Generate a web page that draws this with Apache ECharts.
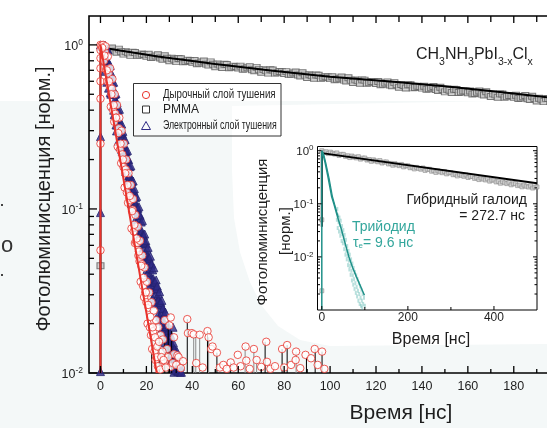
<!DOCTYPE html>
<html>
<head>
<meta charset="utf-8">
<script src="https://cdn.jsdelivr.net/npm/echarts@6/dist/echarts.min.js"></script>
<style>
  html, body { margin: 0; padding: 0; background: #fff; }
  #chart { width: 547px; height: 428px; }
</style>
</head>
<body>
<div id="chart"></div>
<script>
// ---------- main panel data: time [ns], normalised PL ----------
const pmmaDecay = [
  [0,0.045],[0.4,0.98],
  [1,0.969],[2,0.926],[3,0.931],[4,0.944],[5,0.958],[6,0.916],[7,0.902],[8,0.942],[9,0.91],[10,0.878],
  [11,0.909],[12,0.895],[13,0.863],[14,0.903],[15,0.898],[16,0.86],[17,0.866],[18,0.879],[19,0.874],[20,0.853],
  [21,0.877],[22,0.838],[23,0.842],[24,0.856],[25,0.87],[26,0.832],[27,0.818],[28,0.858],[29,0.83],[30,0.8],
  [31,0.828],[32,0.818],[33,0.791],[34,0.827],[35,0.824],[36,0.788],[37,0.792],[38,0.806],[39,0.803],[40,0.783],
  [41,0.804],[42,0.768],[43,0.772],[44,0.786],[45,0.798],[46,0.763],[47,0.753],[48,0.788],[49,0.762],[50,0.736],
  [51,0.764],[52,0.753],[53,0.728],[54,0.762],[55,0.759],[56,0.726],[57,0.731],[58,0.742],[59,0.739],[60,0.723],
  [61,0.742],[62,0.71],[63,0.714],[64,0.725],[65,0.737],[66,0.706],[67,0.696],[68,0.729],[69,0.705],[70,0.681],
  [71,0.707],[72,0.697],[73,0.673],[74,0.706],[75,0.703],[76,0.673],[77,0.677],[78,0.689],[79,0.686],[80,0.67],
  [81,0.687],[82,0.659],[83,0.662],[84,0.674],[85,0.684],[86,0.655],[87,0.646],[88,0.677],[89,0.654],[90,0.632],
  [91,0.657],[92,0.648],[93,0.626],[94,0.656],[95,0.653],[96,0.625],[97,0.63],[98,0.64],[99,0.637],[100,0.623],
  [101,0.64],[102,0.613],[103,0.617],[104,0.626],[105,0.637],[106,0.61],[107,0.602],[108,0.63],[109,0.61],[110,0.59],
  [111,0.612],[112,0.604],[113,0.584],[114,0.612],[115,0.61],[116,0.584],[117,0.588],[118,0.598],[119,0.596],[120,0.582],
  [121,0.598],[122,0.572],[123,0.576],[124,0.586],[125,0.595],[126,0.57],[127,0.563],[128,0.589],[129,0.571],[130,0.552],
  [131,0.573],[132,0.565],[133,0.546],[134,0.572],[135,0.571],[136,0.547],[137,0.55],[138,0.56],[139,0.558],[140,0.545],
  [141,0.56],[142,0.536],[143,0.54],[144,0.548],[145,0.558],[146,0.535],[147,0.527],[148,0.552],[149,0.535],[150,0.517],
  [151,0.536],[152,0.529],[153,0.512],[154,0.537],[155,0.534],[156,0.512],[157,0.516],[158,0.524],[159,0.523],[160,0.511],
  [161,0.524],[162,0.502],[163,0.506],[164,0.514],[165,0.523],[166,0.501],[167,0.495],[168,0.518],[169,0.501],[170,0.485],
  [171,0.503],[172,0.496],[173,0.48],[174,0.503],[175,0.502],[176,0.48],[177,0.484],[178,0.492],[179,0.491],[180,0.479],
  [181,0.493],[182,0.471],[183,0.475],[184,0.483],[185,0.491],[186,0.47],[187,0.465],[188,0.486],[189,0.471],[190,0.455],
  [191,0.473],[192,0.466],[193,0.451],[194,0.472],[195,0.471],[196,0.451],[197,0.454],[198,0.462],[199,0.461],[200,0.45]
];
const pmmaFit = [[0,0.01],[0,0.96],[1,0.96],[25,0.85],[50,0.765],[75,0.695],[100,0.64],[125,0.6],[150,0.56],[175,0.515],[200,0.47]];

const holeQuench = [
  [0,1.0],[0,0.93],[0,0.83],[0,0.72],[0,0.6],[0,0.47],[0,0.25],[0,0.056],
  [0.5,0.99],[1,0.97],[1.5,0.8],[2,0.9],[2.5,0.71],[3,0.6],[3.5,0.67],[4,0.56],[4.5,0.42],[5,0.54],
  [5.5,0.4],[6,0.34],[6.5,0.38],[7,0.36],[7.5,0.24],[8,0.31],[8.5,0.23],[9,0.19],[9.5,0.215],[10,0.18],
  [10.5,0.135],[11,0.174],[11.5,0.126],[12,0.109],[12.5,0.117],[13,0.113],[13.5,0.076],[14,0.099],[14.5,0.073],[15,0.062],
  [15.5,0.063],[16,0.062],[16.5,0.052],[17,0.048],[17.5,0.036],[18,0.046],[18.5,0.034],[19,0.029],[19.5,0.031],[20,0.027],
  [20.5,0.02],[21,0.025],[21.5,0.019],[22,0.017],[22.5,0.014],[23,0.018],[23.5,0.0135],[24,0.012],[24.5,0.0125],[25,0.011],
  [1.2,1.0],[2.2,0.98],[3.2,0.85],[4.2,0.72],[5.2,0.62],[6.2,0.5],[7.2,0.43],[8.2,0.36],[9.2,0.3],[10.2,0.25],
  [11.2,0.2],[12.2,0.165],[13.2,0.14],[14.2,0.115],[15.2,0.092],[16.2,0.078],[17.2,0.064],[18.2,0.052],[19.2,0.044],[20.2,0.036],
  [21.2,0.031],[22.2,0.027],[23.2,0.024],[24.2,0.021],[25.2,0.019],[26.2,0.017],[27.2,0.016],[28,0.021],[29,0.014],[30,0.0195],
  [0.75,0.96],[1.75,0.86],[2.75,0.7],[3.75,0.6],[4.75,0.5],[5.75,0.43],[6.75,0.36],[7.75,0.29],[8.75,0.25],[9.75,0.2],
  [10.75,0.165],[11.75,0.14],[12.75,0.12],[13.75,0.097],[14.75,0.08],[15.75,0.066],[16.75,0.055],[17.75,0.045],[18.75,0.038],[19.75,0.031],
  [20.75,0.026],[21.75,0.022],[22.75,0.019],[23.75,0.0165],[24.75,0.0145],
  [30.6,0.0218],[32,0.013],[25.5,0.0155],[26,0.0105],[27,0.0135],[28,0.0118],[29.5,0.0125],[30.5,0.0109],[32,0.0165],[33.5,0.0128],
  [34.5,0.0115],[26.5,0.0125],[27.5,0.012],[28.5,0.0108],[31.5,0.0115],[33,0.0112],[34,0.0125],[35,0.0107],[36,0.0118],
  [37.8,0.0213],[38.1,0.0175],[39.8,0.0175],[40.6,0.0172],[41.7,0.0115],[43.2,0.0171],[44.5,0.0108],[46.6,0.018],[47.1,0.0165],[48.2,0.014],
  [48.8,0.0145],[50.7,0.0133],[52,0.0108],[53.5,0.0112],[55,0.0106],[56.7,0.0116],[58,0.0108],[59.8,0.0129],[61,0.011],[63.2,0.0145],
  [63.5,0.0119],[65,0.0106],[66.8,0.014],[68,0.012],[70,0.0109],[72.2,0.0155],[72.5,0.0117],[74,0.0106],[76,0.011],[79.1,0.014],
  [80,0.0108],[81.3,0.0148],[83,0.0112],[85.2,0.0135],[85,0.012],[87,0.0107],[89.3,0.0129],[91.7,0.0123],[93.3,0.014],[94.6,0.0112],
  [96.5,0.0135],[97.5,0.0106]
];
const holeFit = [[0,0.01],[0,1.0],[0.2,1.0],[24.5,0.01]];

const electronQuench = [
  [0,1.0],[0,0.276],[0,0.095],[0,0.0102],
  [0.5,0.977],[1,0.881],[1.5,0.993],[2,0.69],[2.5,0.743],[3,0.73],[3.5,0.545],[4,0.658],[4.5,0.501],[5,0.531],
  [5.5,0.501],[6,0.376],[6.5,0.457],[7,0.299],[7.5,0.324],[8,0.32],[8.5,0.24],[9,0.292],[9.5,0.224],[10,0.238],
  [10.5,0.225],[11,0.169],[11.5,0.206],[12,0.135],[12.5,0.146],[13,0.144],[13.5,0.108],[14,0.131],[14.5,0.1],[15,0.107],
  [15.5,0.102],[16,0.0771],[16.5,0.0946],[17,0.0624],[17.5,0.0682],[18,0.0681],[18.5,0.0515],[19,0.0632],[19.5,0.049],[20,0.0528],
  [20.5,0.0508],[21,0.0388],[21.5,0.0481],[22,0.032],[22.5,0.0353],[23,0.0356],[23.5,0.0272],[24,0.0337],[24.5,0.0263],[25,0.0284],
  [25.5,0.0273],[26,0.0208],[26.5,0.0258],[27,0.0172],[27.5,0.019],[28,0.0191],[28.5,0.0146],[29,0.0181],[29.5,0.0141],[30,0.0155],
  [30.5,0.015],[31,0.0116],[31.5,0.0146],[32,0.0101],[32.5,0.011],[33,0.0112],[33.5,0.0103],[34,0.0105],
  [0.75,0.99],[1.25,0.99],[1.75,0.755],[2.25,0.813],[2.75,0.592],[3.25,0.731],[3.75,0.598],[4.25,0.512],[4.75,0.619],[5.25,0.424],
  [5.75,0.4],[6.25,0.465],[6.75,0.325],[7.25,0.352],[7.75,0.258],[8.25,0.321],[8.75,0.265],[9.25,0.229],[9.75,0.278],[10.25,0.191],
  [10.75,0.18],[11.25,0.21],[11.75,0.147],[12.25,0.159],[12.75,0.116],[13.25,0.145],[13.75,0.119],[14.25,0.102],[14.75,0.124],[15.25,0.0859],
  [15.75,0.0818],[16.25,0.0959],[16.75,0.0678],[17.25,0.0741],[17.75,0.0548],[18.25,0.0689],[18.75,0.0571],[19.25,0.0497],[19.75,0.0612],[20.25,0.0427],
  [20.75,0.041],[21.25,0.0485],[21.75,0.0346],[22.25,0.0382],[22.75,0.0285],[23.25,0.0361],[23.75,0.0303],[24.25,0.0265],[24.75,0.0329],[25.25,0.0229],
  [25.75,0.022],[26.25,0.0261],[26.75,0.0186],[27.25,0.0205],[27.75,0.0153],[28.25,0.0194],[28.75,0.0163],[29.25,0.0143],[29.75,0.0178],[30.25,0.0125],
  [30.75,0.0122],[31.25,0.0147],[31.75,0.0106],[32.25,0.0118],[32.75,0.0104],[33.25,0.0115],[33.75,0.0102],[34.25,0.0108],[34.75,0.0101],
  [31.6,0.019],[34.5,0.011],
  [1,0.99],[1.5,0.933],[2,0.995],[2.5,0.826],[3,0.811],[3.5,0.76],[4,0.665],[4.5,0.655],[5,0.547],[5.5,0.537],
  [6,0.507],[6.5,0.427],[7,0.442],[7.5,0.355],[8,0.351],[8.5,0.331],[9,0.292],[9.5,0.288],[10,0.243],[10.5,0.24],
  [11,0.228],[11.5,0.192],[12,0.199],[12.5,0.16],[13,0.158],[13.5,0.149],[14,0.131],[14.5,0.129],[15,0.109],[15.5,0.107],
  [16,0.102],[16.5,0.0867],[17,0.0906],[17.5,0.0735],[18,0.0733],[18.5,0.0698],[19,0.0621],[19.5,0.0619],[20,0.0526],[20.5,0.0525],
  [21,0.0505],[21.5,0.0433],[22,0.0456],[22.5,0.0373],[23,0.0376],[23.5,0.0361],[24,0.0324],[24.5,0.0327],[25,0.028],[25.5,0.0282],
  [26,0.0271],[26.5,0.0232],[27,0.0245],[27.5,0.02],[28,0.0202],[28.5,0.0194],[29,0.0174],[29.5,0.0175],[30,0.015],[30.5,0.0151],
  [31,0.0148],[31.5,0.0128],[32,0.0137],[32.5,0.0114],[33,0.0116],[33.5,0.0113],[34,0.0103],[34.5,0.0105],
  [1.25,0.99],[1.75,0.985],[2.25,0.98],[2.75,0.929],[3.25,0.933],[3.75,0.745],[4.25,0.748],[4.75,0.671],[5.25,0.587],[5.75,0.592],
  [6.25,0.498],[6.75,0.504],[7.25,0.444],[7.75,0.4],[8.25,0.405],[8.75,0.325],[9.25,0.329],[9.75,0.297],[10.25,0.262],[10.75,0.265],
  [11.25,0.224],[11.75,0.227],[12.25,0.2],[12.75,0.181],[13.25,0.183],[13.75,0.147],[14.25,0.148],[14.75,0.133],[15.25,0.117],[15.75,0.119],
  [16.25,0.1007],[16.75,0.103],[17.25,0.0914],[17.75,0.0832],[18.25,0.0849],[18.75,0.0689],[19.25,0.0703],[19.75,0.064],[20.25,0.0569],[20.75,0.0583],
  [21.25,0.05],[21.75,0.0515],[22.25,0.0462],[22.75,0.0425],[23.25,0.0438],[23.75,0.0358],[24.25,0.0369],[24.75,0.0339],[25.25,0.0304],[25.75,0.0313],
  [26.25,0.0269],[26.75,0.0277],[27.25,0.0248],[27.75,0.0228],[28.25,0.0235],[28.75,0.0192],[29.25,0.0198],[29.75,0.0182],[30.25,0.0163],[30.75,0.0169],
  [31.25,0.0147],[31.75,0.0153],[32.25,0.014],[32.75,0.013],[33.25,0.0136],[33.75,0.0112],[34.25,0.0117],[34.75,0.011],[35.25,0.0101]
];

// drop lines from the noisy tail down to the axis floor
const dropBlack = [[22.3,0.019],[25.6,0.017],[28,0.016],[29.5,0.02],[31,0.018],[33,0.013],[37.8,0.0213],[46.6,0.018],[50.7,0.0133],
  [56.7,0.0116],[71.7,0.0155],[79.1,0.014],[81.3,0.0148],[89.7,0.0125],[93.5,0.014],[96.5,0.0135]];
const dropGrey = [[40.6,0.0172],[41.5,0.0175],[43.2,0.0171],[47.1,0.0165],[63,0.0145],[66.8,0.014],[68,0.012],[85.2,0.0135]];

// ---------- inset data ----------
const hybridDecay = [
  [0,0.05],[0,0.0023],
  [0,1.0],[5,0.934],[10,0.955],[15,0.883],[20,0.94],[25,0.896],[30,0.863],[35,0.908],[40,0.816],[45,0.852],
  [50,0.853],[55,0.783],[60,0.803],[65,0.743],[70,0.793],[75,0.758],[80,0.731],[85,0.771],[90,0.694],[95,0.725],
  [100,0.728],[105,0.667],[110,0.683],[115,0.632],[120,0.674],[125,0.643],[130,0.619],[135,0.652],[140,0.586],[145,0.612],
  [150,0.614],[155,0.563],[160,0.577],[165,0.533],[170,0.569],[175,0.543],[180,0.523],[185,0.551],[190,0.496],[195,0.518],
  [200,0.52],[205,0.478],[210,0.49],[215,0.454],[220,0.485],[225,0.464],[230,0.448],[235,0.473],[240,0.425],[245,0.446],
  [250,0.447],[255,0.411],[260,0.421],[265,0.39],[270,0.417],[275,0.399],[280,0.385],[285,0.406],[290,0.366],[295,0.384],
  [300,0.385],[305,0.353],[310,0.362],[315,0.335],[320,0.357],[325,0.342],[330,0.329],[335,0.348],[340,0.313],[345,0.326],
  [350,0.328],[355,0.301],[360,0.308],[365,0.286],[370,0.305],[375,0.292],[380,0.281],[385,0.297],[390,0.267],[395,0.279],
  [400,0.281],[405,0.258],[410,0.264],[415,0.244],[420,0.261],[425,0.249],[430,0.24],[435,0.253],[440,0.228],[445,0.239],
  [450,0.239],[455,0.22],[460,0.226],[465,0.209],[470,0.224],[475,0.214],[480,0.207],[485,0.218],[490,0.198],[495,0.207],[500,0.208]
];
const hybridFit = [[0,0.037],[0,0.9],[2,0.9],[500,0.245]];
const triiodideFit = [[0,0.001],[0,1.0],[3,0.85],[8,0.58],[15,0.3],[23,0.135],[28,0.1],[37,0.055],[46,0.032],[55,0.017],
  [63,0.01],[72,0.0062],[80,0.0043],[90,0.0028],[99,0.0019]];
const triiodideTrace = [[1,1.0],[4.5,0.85],[9.5,0.58],[17,0.3],[24.5,0.14],[29.5,0.1],[38,0.056]];
const triiodideScatter = [
  [35,0.05],[36,0.08],[37,0.035],[38,0.06],[39,0.045],[40,0.03],[41,0.055],[42,0.04],[43,0.025],[44,0.048],
  [45,0.03],[46,0.02],[47,0.038],[48,0.027],[49,0.018],[50,0.032],[51,0.022],[52,0.014],[53,0.026],[54,0.017],
  [55,0.011],[56,0.021],[57,0.013],[58,0.009],[59,0.016],[60,0.0105],[61,0.007],[62,0.013],[63,0.0085],[64,0.0058],
  [65,0.011],[66,0.0068],[67,0.0046],[68,0.009],[69,0.0055],[70,0.0036],[71,0.0075],[72,0.0045],[73,0.003],[74,0.0062],
  [75,0.0038],[76,0.0025],[77,0.0052],[78,0.0032],[79,0.0021],[80,0.0045],[81,0.0027],[82,0.0018],[83,0.0038],[84,0.0023],
  [85,0.0015],[86,0.0032],[87,0.002],[88,0.0013],[89,0.0028],[90,0.0017],[91,0.0012],[92,0.0024],[93,0.0015],[94,0.0011],
  [95,0.002],[96,0.0013],[98,0.0017],[100,0.0012]
];

// ---------- tick values ----------
const mainXMajor = [0,20,40,60,80,100,120,140,160,180,200];
const mainXMinor = [10,30,50,70,90,110,130,150,170,190];
const mainYMajor = [0.01,0.1,1];
const mainYMinor = [0.02,0.03,0.04,0.05,0.06,0.07,0.08,0.09,0.2,0.3,0.4,0.5,0.6,0.7,0.8,0.9];
const insetXMajor = [0,200,400];
const insetXMinor = [100,300];
const insetYMajor = [0.01,0.1,1];
const insetYMinor = [0.002,0.003,0.004,0.005,0.006,0.007,0.008,0.009,0.02,0.03,0.04,0.05,0.06,0.07,0.08,0.09,0.2,0.3,0.4,0.5,0.6,0.7,0.8,0.9];

// legend entries
const legendNames = ['Дырочный слой тушения', 'PMMA', 'Электронный слой тушения'];

const MAIN_X = [-5, 200], MAIN_Y = [0.01, 1.5];
const INSET_X = [-10, 500], INSET_Y = [0.001, 1.2];

const FONT = '"Liberation Sans", Arial, Helvetica, sans-serif';
const INK = '#1e1e1e';
const RED = '#e9332c';
const NAVY = '#2e2a86';
const TEAL = '#1f9088';
const TEAL_TEXT = '#33a69c';

function powLabel(v) {
  return '10{s|' + Math.round(Math.log10(v)) + '}';
}

// ticks along the bottom (and optionally top) edge of a panel
function xTicks(idx, majors, minors, yr, o) {
  const data = majors.map(v => [v, yr[0], 1]).concat(minors.map(v => [v, yr[0], 0]));
  return {
    type: 'custom', xAxisIndex: idx, yAxisIndex: idx, silent: true, z: 20, clip: false,
    encode: { x: 0, y: 1 }, data,
    renderItem(p, api) {
      const v = api.value(0), major = api.value(2) === 1;
      const b = api.coord([v, yr[0]]), t = api.coord([v, yr[1]]);
      const st = { stroke: '#000', lineWidth: o.lw };
      const len = major ? o.major : o.minor;
      const ch = [{ type: 'line', shape: { x1: b[0], y1: b[1], x2: b[0], y2: b[1] - len }, style: st }];
      if (o.top) ch.push({ type: 'line', shape: { x1: t[0], y1: t[1], x2: t[0], y2: t[1] + (major ? o.topMajor : o.topMinor) }, style: st });
      if (major) {
        ch.push({ type: 'text', x: b[0], y: b[1] + o.gap,
          style: { text: String(v), fontSize: o.fs, fontFamily: FONT, fill: INK, align: 'center', verticalAlign: 'top' } });
      }
      return { type: 'group', children: ch };
    }
  };
}

// ticks along the left (and optionally right) edge of a log panel
function yTicks(idx, majors, minors, xr, o) {
  const data = majors.map(v => [xr[0], v, 1]).concat(minors.map(v => [xr[0], v, 0]));
  return {
    type: 'custom', xAxisIndex: idx, yAxisIndex: idx, silent: true, z: 20, clip: false,
    encode: { x: 0, y: 1 }, data,
    renderItem(p, api) {
      const v = api.value(1), major = api.value(2) === 1;
      const l = api.coord([xr[0], v]), r = api.coord([xr[1], v]);
      const st = { stroke: '#000', lineWidth: o.lw };
      const len = major ? o.major : o.minor;
      const ch = [{ type: 'line', shape: { x1: l[0], y1: l[1], x2: l[0] + len, y2: l[1] }, style: st }];
      if (o.right) ch.push({ type: 'line', shape: { x1: r[0], y1: r[1], x2: r[0] - len, y2: r[1] }, style: st });
      if (major) {
        ch.push({ type: 'text', x: l[0] - o.gap, y: l[1] + o.dy,
          style: { text: powLabel(v), fontSize: o.fs, fontFamily: FONT, fill: INK, align: 'right', verticalAlign: 'middle',
            lineHeight: o.fs + 4,
            rich: { s: { fontSize: o.sfs, fontFamily: FONT, fill: INK, lineHeight: o.fs + 4, padding: [0, 0, o.rise, 0] } } } });
      }
      return { type: 'group', children: ch };
    }
  };
}

function dropSeries(pts, color) {
  return {
    type: 'custom', xAxisIndex: 0, yAxisIndex: 0, silent: true, z: 4, clip: false,
    encode: { x: 0, y: 1 }, data: pts,
    renderItem(p, api) {
      const a = api.coord([api.value(0), api.value(1)]);
      const b = api.coord([api.value(0), MAIN_Y[0]]);
      return { type: 'line', shape: { x1: a[0], y1: a[1], x2: b[0], y2: b[1] }, style: { stroke: color, lineWidth: 1 } };
    }
  };
}

// boxed key in the upper left of the main panel
function legendGraphic() {
  const x0 = 133.5, y0 = 83.5, rows = [95, 109.5, 126];
  const scales = [0.81, 1.0, 0.73];
  const els = [
    { type: 'rect', shape: { x: x0, y: y0, width: 147.5, height: 52.5 }, style: { fill: 'rgba(255,255,255,0.35)', stroke: '#333', lineWidth: 1 } },
    { type: 'circle', shape: { cx: 146, cy: rows[0], r: 3.6 }, style: { fill: '#fff', stroke: RED, lineWidth: 1 } },
    { type: 'rect', shape: { x: 142.5, y: rows[1] - 3.5, width: 7, height: 7 }, style: { fill: '#fff', stroke: '#333', lineWidth: 1 } },
    { type: 'polygon', shape: { points: [[146, rows[2] - 4.5], [150.5, rows[2] + 3.5], [141.5, rows[2] + 3.5]] }, style: { fill: 'none', stroke: NAVY, lineWidth: 1 } }
  ];
  legendNames.forEach((name, i) => {
    els.push({ type: 'text', x: 163, y: rows[i], scaleX: scales[i],
      style: { text: name, fontSize: 12, fontFamily: FONT, fill: INK, align: 'left', verticalAlign: 'middle' } });
  });
  return { type: 'group', z: 25, silent: true, children: els };
}

const hiddenAxis = { axisLine: { show: false }, axisTick: { show: false }, axisLabel: { show: false }, splitLine: { show: false } };

const chart = echarts.init(document.getElementById('chart'), null, { renderer: 'canvas' });
chart.setOption({
  animation: false,
  backgroundColor: 'transparent',
  graphic: [
    { type: 'rect', z: -100, silent: true, shape: { x: 0, y: 0, width: 547, height: 428 }, style: { fill: '#f4f8f8' } },
    { type: 'rect', z: -99, silent: true, shape: { x: 0, y: 0, width: 547, height: 101 }, style: { fill: '#ffffff' } },
    { type: 'polygon', z: -99, silent: true,
      shape: { points: [[232,106],[547,100],[547,344],[330,346],[300,340],[278,326],[262,306],[250,282],[240,252],[234,218],[232,170]] },
      style: { fill: '#ffffff' } },
    // fragments of neighbouring slide text at the left edge
    { type: 'text', z: 1, silent: true, x: 1, y: 235, style: { text: 'о', fontSize: 22, fontFamily: FONT, fill: '#333' } },
    { type: 'rect', z: 1, silent: true, shape: { x: 1, y: 204, width: 2, height: 2 }, style: { fill: '#444' } },
    { type: 'rect', z: 1, silent: true, shape: { x: 1, y: 274, width: 2, height: 2 }, style: { fill: '#444' } },
    // axis titles
    { type: 'text', z: 30, silent: true, x: 44, y: 199, rotation: Math.PI / 2,
      style: { text: 'Фотолюминисценция [норм.]', fontSize: 20, fontFamily: FONT, fill: INK, align: 'center', verticalAlign: 'middle' } },
    { type: 'text', z: 30, silent: true, x: 401, y: 413,
      style: { text: 'Время [нс]', fontSize: 21, fontFamily: FONT, fill: INK, align: 'center', verticalAlign: 'middle' } },
    { type: 'text', z: 30, silent: true, x: 263, y: 232, rotation: Math.PI / 2,
      style: { text: 'Фотолюминисценция', fontSize: 15, fontFamily: FONT, fill: INK, align: 'center', verticalAlign: 'middle' } },
    { type: 'text', z: 30, silent: true, x: 286, y: 231, rotation: Math.PI / 2,
      style: { text: '[норм.]', fontSize: 15, fontFamily: FONT, fill: INK, align: 'center', verticalAlign: 'middle' } },
    { type: 'text', z: 30, silent: true, x: 431, y: 340,
      style: { text: 'Время [нс]', fontSize: 16, fontFamily: FONT, fill: INK, align: 'center', verticalAlign: 'middle' } },
    // annotations
    { type: 'text', z: 30, silent: true, x: 416, y: 55,
      style: { text: 'CH{b|3}NH{b|3}PbI{b|3-x}Cl{b|x}', fontSize: 16, fontFamily: FONT, fill: INK, align: 'left', verticalAlign: 'middle',
        lineHeight: 20, rich: { b: { fontSize: 10.5, fontFamily: FONT, fill: INK, lineHeight: 20, padding: [14, 0, 0, 0] } } } },
    { type: 'text', z: 30, silent: true, x: 527, y: 200,
      style: { text: 'Гибридный галоид', fontSize: 14, fontFamily: FONT, fill: INK, align: 'right', verticalAlign: 'middle' } },
    { type: 'text', z: 30, silent: true, x: 525, y: 216,
      style: { text: '= 272.7 нс', fontSize: 14, fontFamily: FONT, fill: INK, align: 'right', verticalAlign: 'middle' } },
    { type: 'text', z: 30, silent: true, x: 352, y: 227,
      style: { text: 'Трийодид', fontSize: 14, fontFamily: FONT, fill: TEAL_TEXT, align: 'left', verticalAlign: 'middle' } },
    { type: 'text', z: 30, silent: true, x: 353, y: 243,
      style: { text: 'τ{e|e}= 9.6 нс', fontSize: 14, fontFamily: FONT, fill: TEAL_TEXT, align: 'left', verticalAlign: 'middle',
        lineHeight: 18, rich: { e: { fontSize: 8, fontFamily: FONT, fill: TEAL_TEXT, lineHeight: 18, padding: [6, 0, 0, 0] } } } },
    legendGraphic()
  ],
  grid: [
    { left: 89, top: 16, width: 470.7, height: 357, outerBoundsMode: 'none', containLabel: false,
      show: true, borderColor: '#000', borderWidth: 1.6, backgroundColor: 'transparent' },
    { left: 317.5, top: 146.5, width: 219.5, height: 163.5, outerBoundsMode: 'none', containLabel: false,
      show: true, borderColor: '#000', borderWidth: 1, backgroundColor: '#fff' }
  ],
  xAxis: [
    Object.assign({ gridIndex: 0, type: 'value', min: MAIN_X[0], max: MAIN_X[1] }, hiddenAxis),
    Object.assign({ gridIndex: 1, type: 'value', min: INSET_X[0], max: INSET_X[1] }, hiddenAxis)
  ],
  yAxis: [
    Object.assign({ gridIndex: 0, type: 'log', logBase: 10, min: MAIN_Y[0], max: MAIN_Y[1] }, hiddenAxis),
    Object.assign({ gridIndex: 1, type: 'log', logBase: 10, min: INSET_Y[0], max: INSET_Y[1] }, hiddenAxis)
  ],
  series: [
    { name: legendNames[1], type: 'scatter', xAxisIndex: 0, yAxisIndex: 0, z: 2, data: pmmaDecay,
      symbol: 'rect', symbolSize: [7, 6], itemStyle: { color: '#c9c9c9', borderColor: '#5e5e5e', borderWidth: 1 } },
    { type: 'line', xAxisIndex: 0, yAxisIndex: 0, z: 3, data: pmmaFit, symbol: 'none', silent: true,
      lineStyle: { color: '#000', width: 2 } },
    { name: legendNames[2], type: 'scatter', xAxisIndex: 0, yAxisIndex: 0, z: 3, data: electronQuench,
      symbol: 'triangle', symbolSize: 8, itemStyle: { color: NAVY, borderColor: '#26236f', borderWidth: 1 } },
    dropSeries(dropGrey, '#8a8a8a'),
    dropSeries(dropBlack, '#000'),
    { name: legendNames[0], type: 'scatter', xAxisIndex: 0, yAxisIndex: 0, z: 5, data: holeQuench,
      symbol: 'circle', symbolSize: 7.5, itemStyle: { color: '#ffffff', borderColor: RED, borderWidth: 1 } },
    { type: 'line', xAxisIndex: 0, yAxisIndex: 0, z: 6, data: holeFit, symbol: 'none', silent: true,
      lineStyle: { color: RED, width: 2 } },

    { type: 'scatter', xAxisIndex: 1, yAxisIndex: 1, z: 2, data: triiodideScatter, silent: true,
      symbol: 'rect', symbolSize: [2, 4], itemStyle: { color: 'rgba(60,170,160,0.45)' } },
    { type: 'scatter', xAxisIndex: 1, yAxisIndex: 1, z: 2, data: hybridDecay, silent: true,
      symbol: 'rect', symbolSize: 4, itemStyle: { color: '#cfcfcf', borderColor: '#8e8e8e', borderWidth: 0.8 } },
    { type: 'line', xAxisIndex: 1, yAxisIndex: 1, z: 3, data: hybridFit, symbol: 'none', silent: true,
      lineStyle: { color: '#000', width: 2 } },
    { type: 'line', xAxisIndex: 1, yAxisIndex: 1, z: 4, data: triiodideTrace, symbol: 'none', silent: true,
      lineStyle: { color: TEAL, width: 1.2 } },
    { type: 'line', xAxisIndex: 1, yAxisIndex: 1, z: 4, data: triiodideFit, symbol: 'none', silent: true,
      lineStyle: { color: TEAL, width: 1.5 } },

    xTicks(0, mainXMajor, mainXMinor, MAIN_Y, { lw: 1.3, major: 7, minor: 4, top: true, topMajor: 7, topMinor: 6, gap: 7, fs: 12.5 }),
    yTicks(0, mainYMajor, mainYMinor, MAIN_X, { lw: 1.3, major: 8, minor: 5, right: false, gap: 6, dy: 1.5, fs: 12.5, sfs: 8.5, rise: 7 }),
    xTicks(1, insetXMajor, insetXMinor, INSET_Y, { lw: 1, major: 4, minor: 3, top: false, gap: 2, fs: 12 }),
    yTicks(1, insetYMajor, insetYMinor, INSET_X, { lw: 1, major: 4, minor: 2.5, right: true, gap: 4, dy: 1, fs: 11.5, sfs: 8, rise: 7 })
  ]
});
</script>
</body>
</html>
